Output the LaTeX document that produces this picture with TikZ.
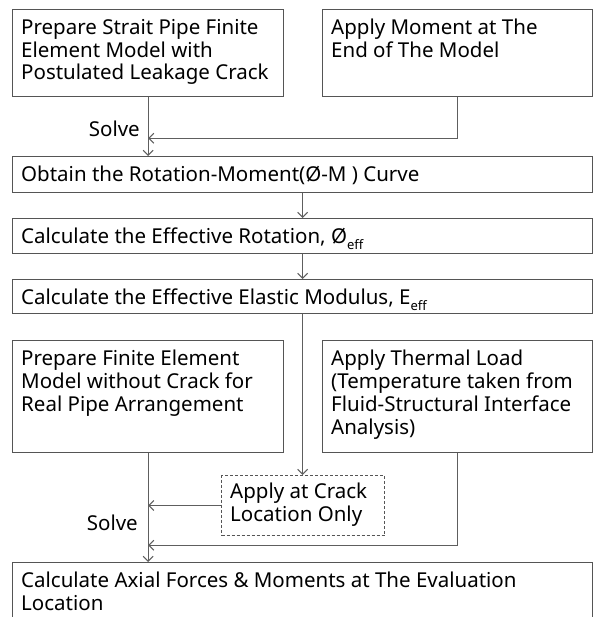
\documentclass[tikz,border=0pt]{standalone}
\usepackage{fontspec}
\setmainfont{Noto Sans}
\usetikzlibrary{arrows.meta,calc}
\definecolor{boxgray}{HTML}{555555}
\definecolor{linegray}{HTML}{5E5E5E}
\newcommand\subeff{\raisebox{-0.28em}{\fontsize{13}{13}\selectfont eff}}
\begin{document}
\begin{tikzpicture}[x=1pt,y=-1pt,
  box/.style={draw=boxgray,line width=1.3pt,rectangle,inner sep=0pt,anchor=north west},
  dbox/.style={box,dashed,dash pattern=on 3pt off 2pt,line width=1.1pt},
  txt/.style={anchor=north west,align=left,inner sep=0pt,font=\fontsize{20.5}{22.8}\selectfont,text=black},
  lbl/.style={anchor=east,inner sep=0pt,font=\fontsize{20.5}{22.8}\selectfont,text=black},
  arr/.style={draw=linegray,line width=1.1pt,-{Straight Barb[length=5pt,width=10pt,line width=1pt]}},
]
\useasboundingbox (0,0) rectangle (594,617);
\clip (0,0) rectangle (594,617);
\fill[white] (0,0) rectangle (594,617);

% boxes
\node[box,minimum width=271pt,minimum height=87pt] (b1) at (12,9) {};
\node[box,minimum width=270pt,minimum height=87pt] (b2) at (322,9) {};
\node[box,minimum width=580pt,minimum height=36pt] (b3) at (12,156) {};
\node[box,minimum width=580pt,minimum height=35pt] (b4) at (12,218) {};
\node[box,minimum width=580pt,minimum height=34pt] (b5) at (12,279) {};
\node[box,minimum width=271pt,minimum height=112pt] (b6) at (12,340) {};
\node[box,minimum width=270pt,minimum height=112pt] (b7) at (322,340) {};
\node[dbox,minimum width=163pt,minimum height=60pt] (d) at (221,475) {};
\node[box,minimum width=580pt,minimum height=70pt] (b8) at (12,562) {};

% texts
\node[txt] (t1) at (21,19) {Prepare Strait Pipe Finite\\Element Model with\\Postulated Leakage Crack};
\node[txt] (t2) at (331,19) {Apply Moment at The\\End of The Model};
\node[txt] (t3) at (21,166) {Obtain the Rotation-Moment(Ø-M ) Curve};
\node[txt] (t4) at (21,228) {Calculate the Effective Rotation, Ø\subeff};
\node[txt] (t5) at (21,289) {Calculate the Effective Elastic Modulus, E\subeff};
\node[txt] (t6) at (21,350) {Prepare Finite Element\\Model without Crack for\\Real Pipe Arrangement};
\node[txt] (t7) at (331,350) {Apply Thermal Load\\(Temperature taken from\\Fluid-Structural Interface\\Analysis)};
\node[txt] (td) at (230,483) {Apply at Crack\\Location Only};
\node[txt] (t8) at (21,572) {Calculate Axial Forces \& Moments at The Evaluation\\Location};
\node[lbl] (s1) at (140,129) {Solve};
\node[lbl] (s2) at (138,523) {Solve};

% connectors
\coordinate (j1) at ($(b1.south)+(0,41)$);
\coordinate (j2) at ($(b6.south)+(0,92)$);
\draw[arr] (b1.south) -- (b1.south |- b3.north);
\draw[arr] (b2.south) |- (j1);
\draw[arr] (b3.south) -- (b4.north);
\draw[arr] (b4.south) -- (b5.north);
\draw[arr] (b5.south) -- (b5.south |- d.north);
\draw[arr] (d.west) -- (d.west -| b6.south);
\draw[arr] (b7.south) |- (j2);
\draw[arr] (b6.south) -- (b6.south |- b8.north);
\end{tikzpicture}
\end{document}
